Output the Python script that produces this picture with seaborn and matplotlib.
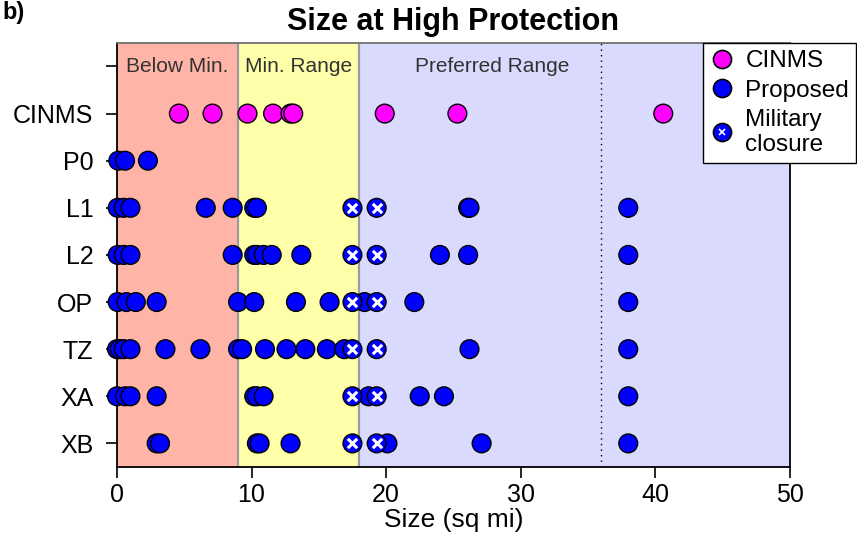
import matplotlib
matplotlib.use("Agg")
import matplotlib.pyplot as plt
import seaborn as sns
import pandas as pd
import numpy as np
from matplotlib.lines import Line2D
from matplotlib.legend_handler import HandlerTuple

# rows, top to bottom (blank row at top holds the range labels)
rows = ["", "CINMS", "P0", "L1", "L2", "OP", "TZ", "XA", "XB"]

# sizes (sq mi)
cinms = [4.6, 7.1, 9.7, 11.6, 12.9, 13.1, 19.9, 25.3, 40.6]
proposed = {
    "P0": [0.1, 0.6, 2.3],
    "L1": [0.05, 0.5, 1.0, 6.6, 8.6, 10.2, 10.4, 26.1, 26.2, 38.0],
    "L2": [0.05, 0.5, 1.0, 8.6, 10.2, 10.4, 10.9, 11.5, 13.7, 24.0, 26.1, 38.0],
    "OP": [0.05, 0.7, 1.4, 2.95, 9.0, 10.2, 13.3, 15.8, 18.4, 22.1, 38.0],
    "TZ": [0.0, 0.2, 0.5, 1.0, 3.6, 6.2, 9.0, 9.3, 11.0, 12.6, 14.0, 15.6, 16.9, 26.2, 38.0],
    "XA": [0.0, 0.6, 1.0, 2.95, 10.2, 10.4, 10.9, 18.7, 22.5, 24.3, 38.0],
    "XB": [2.95, 3.2, 10.4, 10.6, 12.9, 20.1, 27.1, 38.0],
}
military = {
    "L1": [17.5, 19.3],
    "L2": [17.5, 19.3],
    "OP": [17.5, 19.3],
    "TZ": [17.5, 19.3],
    "XA": [17.5, 19.3],
    "XB": [17.5, 19.3],
}

# ranges
below_min = (0, 9)
min_range = (9, 18)
preferred = (18, 50)
pref_mark = 36

recs = [(v, "CINMS", "CINMS") for v in cinms]
for r, vals in proposed.items():
    recs += [(v, r, "Proposed") for v in vals]
for r, vals in military.items():
    recs += [(v, r, "Military") for v in vals]
df = pd.DataFrame(recs, columns=["size", "row", "kind"])

sns.set_theme(style="white")
plt.rcParams["font.family"] = ["Liberation Sans", "DejaVu Sans"]
plt.rcParams.update({"text.color": "black", "axes.labelcolor": "black",
                     "xtick.color": "black", "ytick.color": "black"})

fig = plt.figure(figsize=(8.57, 5.5), dpi=100)
ax = fig.add_axes([0.1365, 0.151, 0.785, 0.771])

ax.axvspan(*below_min, color="#FFB4A8", zorder=0, lw=0)
ax.axvspan(*min_range, color="#FFFFAA", zorder=0, lw=0)
ax.axvspan(*preferred, color="#DADAFF", zorder=0, lw=0)
for xv in (below_min[1], min_range[1]):
    ax.axvline(xv, color="#9a9aa4", lw=1.6, zorder=1)
ax.axvline(pref_mark, color="black", ls=(0, (1, 3)), lw=1, zorder=1)

pal = {"CINMS": "#FF00FF", "Proposed": "#0000FF", "Military": "#0000FF"}
sns.stripplot(data=df, x="size", y="row", hue="kind", order=rows,
              palette=pal, jitter=False, dodge=False, size=13.5,
              linewidth=1, edgecolor="black", legend=False, ax=ax, zorder=3)

# let points at 0 spill over the left spine, like the original
for coll in ax.collections:
    offs = np.asarray(coll.get_offsets())
    if len(offs) and np.isfinite(offs).all():
        coll.set_clip_on(False)

# white crosses on military closures
mil = df[df["kind"] == "Military"]
ax.scatter(mil["size"], mil["row"].map(rows.index), marker="x", c="white",
           s=45, linewidths=2.2, zorder=5)

ax.text(sum(below_min) / 2, 0, "Below Min.", ha="center", va="center",
        fontsize=15, color="#333333")
ax.text(sum(min_range) / 2, 0, "Min. Range", ha="center", va="center",
        fontsize=15, color="#333333")
ax.text(27.9, 0, "Preferred Range", ha="center", va="center",
        fontsize=15, color="#333333")

ax.set_xlim(0, 50)
ax.set_ylim(8.5, -0.5)
ax.set_xticks(range(0, 51, 10))
ax.tick_params(axis="both", direction="out", length=8, width=1.2,
               color="black", labelsize=18, bottom=True, left=True)
ax.tick_params(axis="y", pad=9)
for s in ("left", "bottom", "right"):
    ax.spines[s].set_color("black")
    ax.spines[s].set_linewidth(1.3)
ax.spines["top"].set_color("#707070")
ax.spines["top"].set_linewidth(1.3)

ax.set_xlabel("Size (sq mi)", fontsize=19, labelpad=1)
ax.set_ylabel("")
ax.set_title("Size at High Protection", fontsize=22, fontweight="bold", pad=9)

fig.text(0.003, 0.998, "b)", fontsize=17, fontweight="bold", va="top")

h_c = Line2D([], [], marker="o", ls="", mfc="#FF00FF", mec="black", ms=13, mew=1.2)
h_p = Line2D([], [], marker="o", ls="", mfc="#0000FF", mec="black", ms=13, mew=1.2)
h_x = Line2D([], [], marker="x", ls="", mec="white", ms=5, mew=1.2)
fig.legend([h_c, h_p, (h_p, h_x)], ["CINMS", "Proposed", "Military\nclosure"],
           loc="upper left", bbox_to_anchor=(0.82, 0.922),
           handler_map={tuple: HandlerTuple(ndivide=1)},
           frameon=True, fancybox=False, edgecolor="black", framealpha=1,
           fontsize=17.5, handlelength=1.0, handletextpad=0.45, borderpad=0.3,
           labelspacing=0.3, borderaxespad=0)

fig.savefig("out.png", dpi=100)
